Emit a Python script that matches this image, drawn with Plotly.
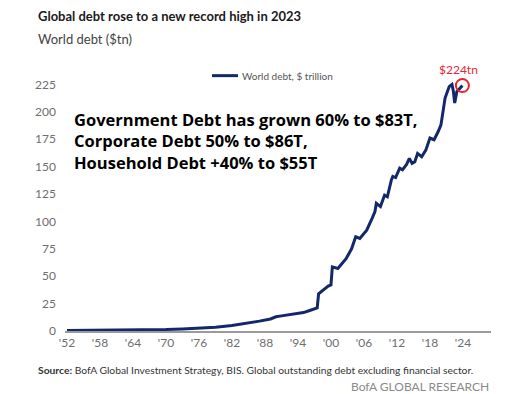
import plotly.graph_objects as go

# ---- data ----
years = [1952, 1955, 1958, 1961, 1964, 1967, 1970, 1973, 1976, 1979, 1982, 1985, 1987, 1989,
         1990, 1991, 1993, 1995, 1996, 1997, 1997.5, 1997.75, 1998.5, 1999.5, 2000.0, 2000.25,
         2001.25, 2001.75, 2002.75, 2003.75, 2004.5, 2005.25, 2006.5, 2007.5, 2008.0, 2008.25,
         2009.0, 2009.75, 2010.25, 2011.0, 2011.25, 2011.75, 2012.5, 2013.0, 2013.75, 2014.25,
         2014.75, 2015.25, 2015.75, 2016.5, 2017.25, 2018.0, 2018.75, 2019.5, 2020.0, 2020.75,
         2021.5, 2022.0, 2022.25, 2022.5, 2022.9, 2023.5, 2023.9]
world_debt = [0.5, 0.6, 0.7, 0.8, 0.9, 1.1, 1.4, 1.9, 2.6, 3.5, 5.0, 7.0, 9.0, 11.0,
              13.0, 13.8, 15.2, 16.8, 18.5, 20.5, 21, 34, 37, 41, 42, 58.5,
              57, 60, 66, 75, 86, 84.5, 92, 103, 109, 116.5,
              113.5, 124, 122.5, 138, 141, 140, 148.5, 147, 152, 157.5,
              153, 154.5, 162, 159, 165, 176, 174.5, 182, 188, 212.5,
              223, 225, 219, 208, 218.5, 221.8, 224]
last_year = 2023.9
last_value = 224
tick_years = [1952, 1958, 1964, 1970, 1976, 1982, 1988, 1994, 2000, 2006, 2012, 2018, 2024]
tick_labels = ["'52", "'58", "'64", "'70", "'76", "'82", "'88", "'94", "'00", "'06", "'12", "'18", "'24"]
y_ticks = [0, 25, 50, 75, 100, 125, 150, 175, 200, 225]

# page body has an 8px margin: figure sits at (8, 8) in the window
OFF = 8
W, H = 508 - OFF, 394 - OFF
L, R, T, B = 65 - OFF, 491 - OFF, 57.4 - OFF, 330.7 - OFF


def px(x):
    return (x - OFF - L) / (R - L)


def py(y):
    return (B - (y - OFF)) / (B - T)


NAVY = "#13286b"
RED = "#e3262f"
GRAY = "#6e6e6e"
FONT = "Lato, Roboto, sans-serif"

fig = go.Figure()
fig.add_trace(go.Scatter(x=years, y=world_debt, mode="lines",
                         line=dict(color=NAVY, width=3), showlegend=False,
                         name="World debt, $ trillion"))
fig.add_trace(go.Scatter(x=[last_year], y=[last_value], mode="markers",
                         marker=dict(symbol="circle-open", size=13, color=RED,
                                     line=dict(color=RED, width=2)),
                         showlegend=False))

fig.update_layout(
    width=W, height=H,
    margin=dict(l=L, r=W - R, t=T, b=H - B),
    paper_bgcolor="white", plot_bgcolor="white",
    xaxis=dict(range=[1951.64, 2029.1], tickvals=tick_years, ticktext=tick_labels,
               showgrid=False, zeroline=False, showline=True, linecolor="#9a9a9a",
               linewidth=1.5, ticks="", tickfont=dict(family=FONT, size=12, color=GRAY),
               fixedrange=True),
    yaxis=dict(range=[0, 250], tickvals=y_ticks, showgrid=False, zeroline=False,
               showline=False, ticks="", ticklabelstandoff=8,
               tickfont=dict(family=FONT, size=12, color=GRAY), fixedrange=True),
    showlegend=False,
)

# legend sample
fig.add_shape(type="line", xref="paper", yref="paper",
              x0=px(212), x1=px(238), y0=py(76), y1=py(76),
              line=dict(color=NAVY, width=3))

anns = [
    dict(x=px(240), y=py(76), text="World debt, $ trillion", xanchor="left", yanchor="middle",
         font=dict(family=FONT, size=10, color="#555555")),
    dict(x=px(458), y=py(70), text="$224tn", xanchor="center", yanchor="middle",
         font=dict(family=FONT, size=12, color=RED)),
    dict(x=px(36), y=py(17), text="<b>Global debt rose to a new record high in 2023</b>",
         xanchor="left", yanchor="middle",
         font=dict(family=FONT, size=13, color="#1a1a1a")),
    dict(x=px(36), y=py(39), text="World debt ($tn)", xanchor="left", yanchor="middle",
         font=dict(family=FONT, size=13, color="#444444")),
    dict(x=px(72), y=py(141),
         text="Government Debt has grown 60% to $83T,<br>Corporate Debt 50% to $86T,<br>Household Debt +40% to $55T",
         xanchor="left", yanchor="middle", align="left",
         font=dict(family="Open Sans", size=16.5, color="black", weight=700)),
    dict(x=px(36), y=py(370),
         text="<b>Source:</b> BofA Global Investment Strategy, BIS. Global outstanding debt excluding financial sector.",
         xanchor="left", yanchor="middle",
         font=dict(family=FONT, size=10.3, color="#333333")),
    dict(x=px(491), y=py(386), text="BofA GLOBAL RESEARCH", xanchor="right", yanchor="middle",
         font=dict(family=FONT, size=12, color="#8a8a8a")),
]
for a in anns:
    a.update(xref="paper", yref="paper", showarrow=False)
    fig.add_annotation(**a)

fig.write_html("out.html")
